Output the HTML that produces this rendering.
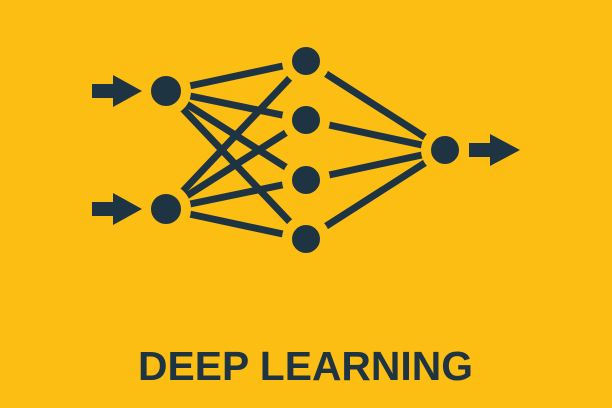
<!DOCTYPE html>
<html><head><style>
html,body{margin:0;padding:0;background:#FCBE12;}
svg{display:block;}
</style></head><body>
<svg width="612" height="408" viewBox="0 0 612 408" xmlns="http://www.w3.org/2000/svg">
<rect width="612" height="408" fill="#FCBE12"/>
<g stroke="#1E3443" stroke-width="7" stroke-linecap="butt">
<line x1="166" y1="91" x2="306" y2="61"/>
<line x1="166" y1="91" x2="306" y2="120"/>
<line x1="166" y1="91" x2="306" y2="180"/>
<line x1="166" y1="91" x2="306" y2="239"/>
<line x1="166" y1="209" x2="306" y2="61"/>
<line x1="166" y1="209" x2="306" y2="120"/>
<line x1="166" y1="209" x2="306" y2="180"/>
<line x1="166" y1="209" x2="306" y2="239"/>
<line x1="306" y1="61" x2="445" y2="150"/>
<line x1="306" y1="120" x2="445" y2="150"/>
<line x1="306" y1="180" x2="445" y2="150"/>
<line x1="306" y1="239" x2="445" y2="150"/>
</g>
<g fill="#1E3443" stroke="#FCBE12" stroke-width="10">
<circle cx="166" cy="91" r="20"/>
<circle cx="166" cy="209" r="20"/>
<circle cx="306" cy="61" r="19"/>
<circle cx="306" cy="120" r="19"/>
<circle cx="306" cy="180" r="19"/>
<circle cx="306" cy="239" r="19"/>
<circle cx="445" cy="150" r="19"/>
</g>
<g fill="#1E3443">
<polygon points="92,84 113,84 113,75 142,91 113,107 113,98 92,98"/>
<polygon points="92,202 113,202 113,193 142,209 113,225 113,216 92,216"/>
<polygon points="469,143 490,143 490,134 520,150 490,166 490,157 469,157"/>
</g>
<text x="138" y="380" font-family="Liberation Sans, sans-serif" font-weight="bold" font-size="41" fill="#1E3443" textLength="335" lengthAdjust="spacingAndGlyphs">DEEP LEARNING</text>
</svg>
</body></html>
